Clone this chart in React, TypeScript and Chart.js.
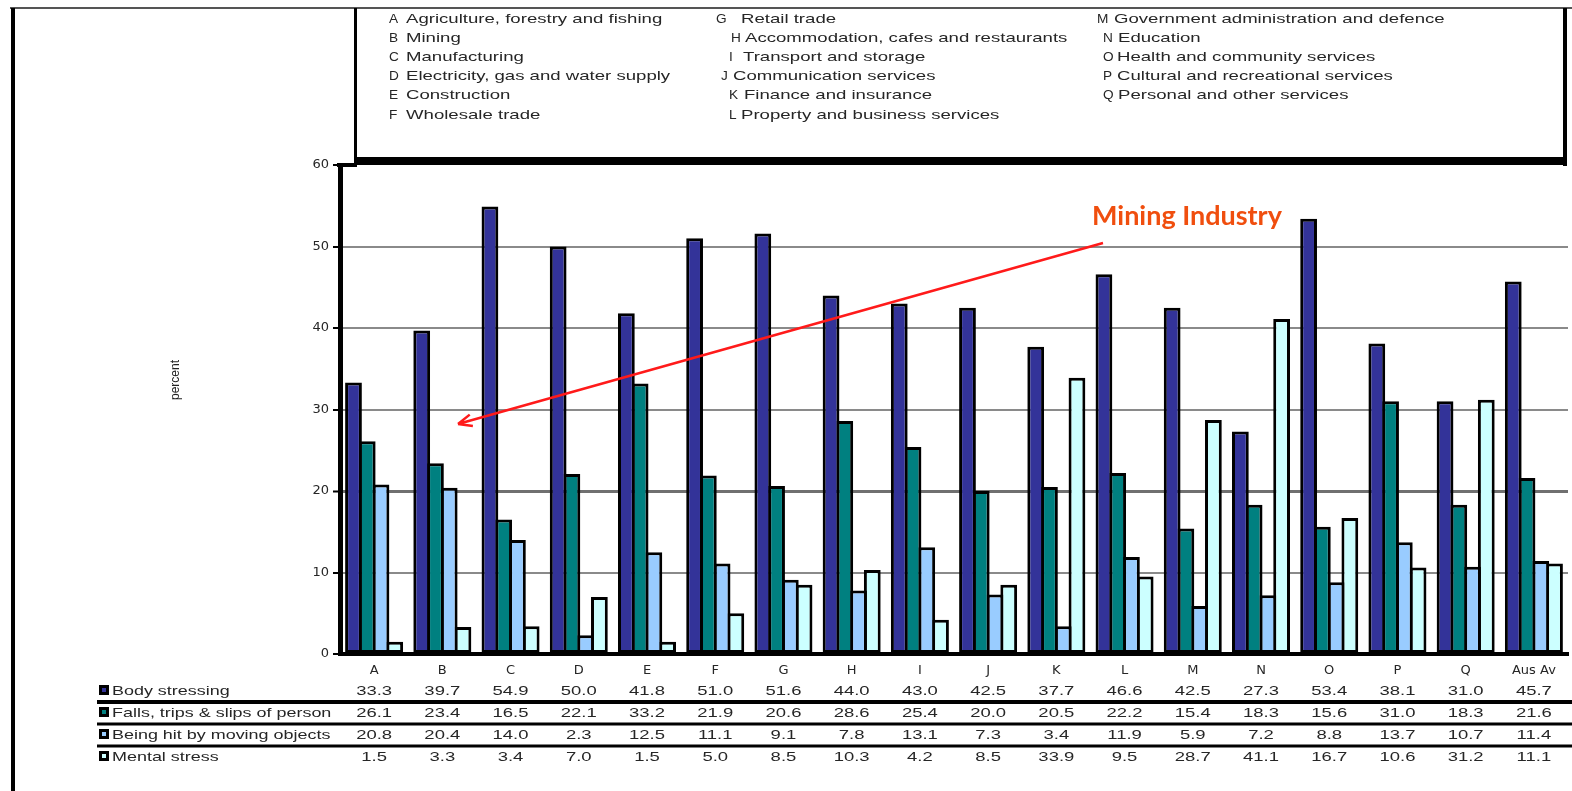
import { useEffect, useRef } from "react";
import { Chart, registerables } from "chart.js";

Chart.register(...registerables);

const categories = ["A", "B", "C", "D", "E", "F", "G", "H", "I", "J", "K", "L", "M", "N", "O", "P", "Q", "Aus Av"];
const bodyStressing = [33.3, 39.7, 54.9, 50.0, 41.8, 51.0, 51.6, 44.0, 43.0, 42.5, 37.7, 46.6, 42.5, 27.3, 53.4, 38.1, 31.0, 45.7];
const fallsTripsSlips = [26.1, 23.4, 16.5, 22.1, 33.2, 21.9, 20.6, 28.6, 25.4, 20.0, 20.5, 22.2, 15.4, 18.3, 15.6, 31.0, 18.3, 21.6];
const beingHit = [20.8, 20.4, 14.0, 2.3, 12.5, 11.1, 9.1, 7.8, 13.1, 7.3, 3.4, 11.9, 5.9, 7.2, 8.8, 13.7, 10.7, 11.4];
const mentalStress = [1.5, 3.3, 3.4, 7.0, 1.5, 5.0, 8.5, 10.3, 4.2, 8.5, 33.9, 9.5, 28.7, 41.1, 16.7, 10.6, 31.2, 11.1];
const seriesNames = ["Body stressing", "Falls, trips & slips of person", "Being hit by moving objects", "Mental stress"];
const seriesColors = ["#333399", "#008080", "#99CCFF", "#CCFFFF"];

const legendCol1 = [
  ["A", "Agriculture, forestry and fishing"],
  ["B", "Mining"],
  ["C", "Manufacturing"],
  ["D", "Electricity, gas and water supply"],
  ["E", "Construction"],
  ["F", "Wholesale trade"],
];
const legendCol2 = [
  ["G", "Retail trade"],
  ["H", "Accommodation, cafes and restaurants"],
  ["I", "Transport and storage"],
  ["J", "Communication services"],
  ["K", "Finance and insurance"],
  ["L", "Property and business services"],
];
const legendCol3 = [
  ["M", "Government administration and defence"],
  ["N", "Education"],
  ["O", "Health and community services"],
  ["P", "Cultural and recreational services"],
  ["Q", "Personal and other services"],
];
const yAxisTitle = "percent";
const annotationLabel = "Mining Industry";

const FONT = "Liberation Sans";
const TICK_FONT = "DejaVu Sans";

function sText(ctx: CanvasRenderingContext2D, t: string, x: number, y: number, align: CanvasTextAlign, sx: number) {
  ctx.save();
  ctx.translate(x, y);
  ctx.scale(sx, 1);
  ctx.textAlign = align;
  ctx.fillText(t, 0, 0);
  ctx.restore();
}

const decorPlugin = {
  id: "decor",
  beforeDraw(chart: any) {
    const ctx: CanvasRenderingContext2D = chart.ctx;
    ctx.save();
    ctx.fillStyle = "#ffffff";
    ctx.fillRect(0, 0, chart.width, chart.height);
    // outer frame
    ctx.fillStyle = "#555";
    ctx.fillRect(10, 7, chart.width - 10, 2);
    ctx.fillStyle = "#000";
    ctx.fillRect(11, 8, 4, chart.height - 8);
    // legend box
    ctx.fillRect(354, 8, 3, 156);
    ctx.fillRect(1563, 8, 4, 158);
    // legend text
    ctx.fillStyle = "#262626";
    ctx.font = `13px "${FONT}"`;
    ctx.textBaseline = "middle";
    const LSX = 1.43;
    const KSX = 1.05;
    const rowY = (i: number) => 19 + i * 19.2;
    legendCol1.forEach(([l, n], i) => {
      sText(ctx, l, 389, rowY(i), "left", KSX);
      sText(ctx, n, 406, rowY(i), "left", LSX);
    });
    const c2x = [716, 731, 729, 721, 729, 729];
    const c2n = [741, 745, 743, 733, 744, 741];
    legendCol2.forEach(([l, n], i) => {
      sText(ctx, l, c2x[i], rowY(i), "left", KSX);
      sText(ctx, n, c2n[i], rowY(i), "left", LSX);
    });
    const c3x = [1097, 1103, 1103, 1103, 1103];
    const c3n = [1114, 1118, 1117, 1117, 1118];
    legendCol3.forEach(([l, n], i) => {
      sText(ctx, l, c3x[i], rowY(i), "left", KSX);
      sText(ctx, n, c3n[i], rowY(i), "left", LSX);
    });
    ctx.restore();
  },
  afterDraw(chart: any) {
    const ctx: CanvasRenderingContext2D = chart.ctx;
    const xs = chart.scales.x;
    const area = chart.chartArea;
    ctx.save();
    // thick band at top of plot / bottom of legend
    ctx.fillStyle = "#000";
    ctx.fillRect(355, 157, 1567 - 355, 8);
    ctx.fillRect(area.left - 3, area.top - 2, 360 - area.left, 4);

    // y axis title
    ctx.fillStyle = "#222";
    ctx.font = `12px "${FONT}"`;
    ctx.translate(176, 380);
    ctx.rotate(-Math.PI / 2);
    ctx.textAlign = "center";
    ctx.textBaseline = "middle";
    ctx.fillText(yAxisTitle, 0, 0);
    ctx.setTransform(1, 0, 0, 1, 0, 0);

    // data table
    const rowsY = [691, 713, 735, 757];
    const sepY = [702, 724, 746];
    const sepW = [4, 3, 3];
    ctx.fillStyle = "#000";
    sepY.forEach((y, i) => ctx.fillRect(97, y - sepW[i] / 2, chart.width - 97, sepW[i]));
    const datasets = chart.data.datasets;
    ctx.font = `13px "${FONT}"`;
    ctx.textBaseline = "middle";
    datasets.forEach((ds: any, r: number) => {
      const y = rowsY[r];
      ctx.fillStyle = "#000";
      ctx.fillRect(99, y - 6, 10, 10);
      ctx.fillStyle = ds.backgroundColor;
      ctx.fillRect(102, y - 3, 4, 4);
      ctx.fillStyle = "#262626";
      sText(ctx, ds.label, 112, y, "left", 1.38);
      ds.data.forEach((v: number, i: number) => {
        sText(ctx, v.toFixed(1), xs.getPixelForValue(i), y, "center", 1.42);
      });
    });

    // annotation arrow
    const x1 = 1103, y1 = 243, x2 = 458, y2 = 424;
    ctx.strokeStyle = "#ff1a1a";
    ctx.lineWidth = 2.5;
    ctx.beginPath();
    ctx.moveTo(x1, y1);
    ctx.lineTo(x2, y2);
    const ang = Math.atan2(y2 - y1, x2 - x1);
    const hl = 15;
    ctx.moveTo(x2, y2);
    ctx.lineTo(x2 - hl * Math.cos(ang - 0.4), y2 - hl * Math.sin(ang - 0.4));
    ctx.moveTo(x2, y2);
    ctx.lineTo(x2 - hl * Math.cos(ang + 0.4), y2 - hl * Math.sin(ang + 0.4));
    ctx.stroke();

    ctx.fillStyle = "#F04E0E";
    let size = 22;
    ctx.font = `bold ${size}px Lato`;
    const w = ctx.measureText(annotationLabel).width;
    size = size * 190 / w;
    ctx.font = `bold ${size}px Lato`;
    ctx.textAlign = "left";
    ctx.textBaseline = "alphabetic";
    ctx.fillText(annotationLabel, 1092, 225);
    ctx.restore();
  },
};

export default function App() {
  const ref = useRef<HTMLCanvasElement>(null);
  useEffect(() => {
    const prevMargin = document.body.style.margin;
    document.body.style.margin = "0";
    const canvas = ref.current!;
    const chart = new Chart(canvas, {
      type: "bar",
      data: {
        labels: categories,
        datasets: [bodyStressing, fallsTripsSlips, beingHit, mentalStress].map((d, i) => ({
          label: seriesNames[i],
          data: d,
          backgroundColor: seriesColors[i],
          borderColor: "#000",
          borderWidth: 3,
          borderSkipped: false,
          categoryPercentage: 0.806,
          barPercentage: 1.22,
        })),
      },
      options: {
        responsive: false,
        animation: false,
        devicePixelRatio: 1,
        layout: { padding: { top: 165, right: 4, left: 0, bottom: 0 } },
        plugins: { legend: { display: false }, tooltip: { enabled: false } },
        scales: {
          x: {
            ticks: { font: { family: TICK_FONT, size: 13 }, color: "#262626", padding: 9, maxRotation: 0, autoSkip: false },
            grid: { display: true, drawOnChartArea: false, drawTicks: false },
            border: { color: "#000", width: 4 },
            afterFit: (s: any) => { s.height = 791 - 654; },
          },
          y: {
            min: 0,
            max: 60,
            ticks: { stepSize: 10, font: { family: TICK_FONT, size: 13 }, color: "#262626", padding: 4 },
            grid: {
              color: (c: any) => (c.tick && (c.tick.value === 0 || c.tick.value === 60) ? "rgba(0,0,0,0)" : c.tick && c.tick.value === 20 ? "#707070" : "#8a8a8a"),
              lineWidth: (c: any) => (c.tick && c.tick.value === 20 ? 3 : 2),
              tickColor: "#000",
              tickLength: 7,
              tickWidth: 2,
            },
            border: { color: "#000", width: 5 },
            afterFit: (s: any) => { s.width = 340; },
          },
        },
      },
      plugins: [decorPlugin],
    });
    return () => {
      chart.destroy();
      document.body.style.margin = prevMargin;
    };
  }, []);
  return (
    <canvas
      ref={ref}
      width={1572}
      height={791}
      style={{ position: "absolute", left: 0, top: 0, width: 1572, height: 791 }}
    />
  );
}
